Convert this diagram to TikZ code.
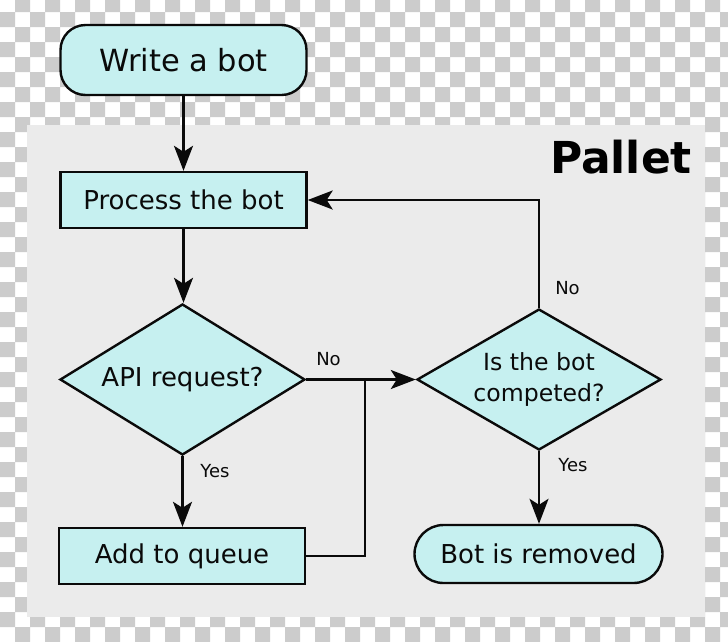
\documentclass[tikz,border=0pt]{standalone}
\usepackage{fontspec}
\setmainfont{DejaVu Sans}
\usetikzlibrary{shapes.geometric,shapes.misc,arrows.meta}
\definecolor{boxfill}{RGB}{198,240,240}
\definecolor{panelgray}{RGB}{235,235,235}
\definecolor{chk}{RGB}{204,204,204}
\definecolor{ink}{RGB}{10,10,10}
\begin{document}
\begin{tikzpicture}[x=1pt,y=1pt,
  line width=2.4pt,
  boxbase/.style={draw=ink, fill=boxfill, line width=2.4pt, inner sep=0pt, text=ink,
    font=\fontsize{26}{31}\selectfont, align=center},
  rectbox/.style={boxbase, rectangle, minimum width=246pt, minimum height=56pt},
  decision/.style={boxbase, diamond, aspect=1.62, minimum width=245pt, minimum height=151pt},
  pill/.style={boxbase, rounded rectangle, minimum width=248pt, minimum height=58pt},
  lbl/.style={inner sep=0pt, text=ink, font=\fontsize{18}{22}\selectfont},
  arr/.style={draw=ink, line width=2.4pt, -{Stealth[length=25pt,width=19pt,inset=6pt]}},
  conn/.style={draw=ink, line width=2.4pt}
]
\useasboundingbox (0,0) rectangle (728,-641);
% transparency checkerboard
\begin{scope}
\clip (0,0) rectangle (728,-641);
\fill[white] (0,0) rectangle (728,-641);
\fill[chk] \foreach \k in {0,2,...,42} {\foreach \i in {1,3,...,47} {(\i*15,3-\k*15) rectangle ++(15,-15)}}
           \foreach \k in {1,3,...,43} {\foreach \i in {0,2,...,48} {(\i*15,3-\k*15) rectangle ++(15,-15)}};
\end{scope}
% panel
\fill[panelgray] (27,-125) rectangle (705,-617);
\node[inner sep=0pt, anchor=base east, font=\fontsize{44}{50}\selectfont\bfseries, text=black] (pallet) at (693,-173) {Pallet};

% nodes
\node[boxbase, rectangle, rounded corners=25pt, minimum width=246pt, minimum height=70pt,
  font=\fontsize{30.5}{36}\selectfont] (write) at (183.5,-60) {Write a bot};
\node[rectbox] (proc) at (183.5,-200) {Process the bot};
\node[decision] (api) at (182.5,-379.5) {API request?};
\node[rectbox] (add) at (182,-556) {Add to queue};
\node[decision, minimum width=244pt, minimum height=141pt, font=\fontsize{23.6}{31}\selectfont] (isbot) at (539,-379.5) {Is the bot\\competed?};
\node[pill] (rem) at (538.5,-554) {Bot is removed};

% connectors
\coordinate (join) at (365,-379.5);
\draw[arr] (write) -- (proc);
\draw[arr] (proc.south) -- (proc.south |- api.north);
\draw[arr] (api) -- (isbot);
\draw[conn] (add.east) -| (join);
\draw[arr] (isbot.north) |- (proc.east);
\draw[arr] (api.south) -- (api.south |- add.north);
\draw[arr] (isbot.south) -- (isbot.south |- rem.north);

% labels
\node[lbl] (lno1) at (328.5,-359) {No};
\node[lbl] (lno2) at (567.5,-288) {No};
\node[lbl] (lyes1) at (215,-471) {Yes};
\node[lbl] (lyes2) at (573,-465) {Yes};
\end{tikzpicture}
\end{document}
